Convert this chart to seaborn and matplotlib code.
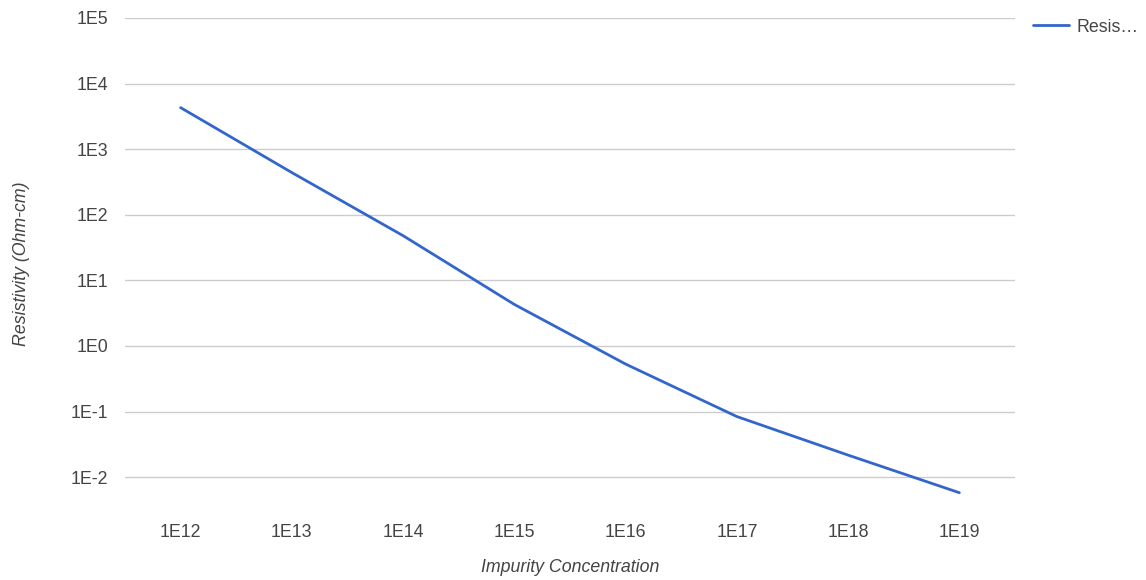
import matplotlib
matplotlib.use("Agg")
import matplotlib.pyplot as plt
import seaborn as sns
import pandas as pd
from matplotlib.ticker import FixedLocator, NullLocator

# Silicon resistivity versus impurity concentration
concentration = [1e12, 1e13, 1e14, 1e15, 1e16, 1e17, 1e18, 1e19]
resistivity = [4300, 440, 48, 4.3, 0.53, 0.084, 0.0217, 0.0058]
x_tick_labels = ["1E12", "1E13", "1E14", "1E15", "1E16", "1E17", "1E18", "1E19"]
y_ticks = [1e-2, 1e-1, 1e0, 1e1, 1e2, 1e3, 1e4, 1e5]
y_tick_labels = ["1E-2", "1E-1", "1E0", "1E1", "1E2", "1E3", "1E4", "1E5"]
series_name = "Resis…"

df = pd.DataFrame({"Impurity Concentration": concentration,
                   "Resistivity": resistivity,
                   "series": series_name})

sns.set_theme(style="white")
plt.rcParams["font.family"] = ["Liberation Sans", "DejaVu Sans"]

FS = 12.8
W, H = 1146, 580
fig = plt.figure(figsize=(W / 100, H / 100), dpi=100)
ax = fig.add_axes([125 / W, 1 - 510 / H, 890 / W, 492 / H])

sns.lineplot(data=df, x="Impurity Concentration", y="Resistivity",
             hue="series", palette=["#3366cc"], linewidth=2, ax=ax)

ax.set_xscale("log")
ax.set_yscale("log")
ax.set_xlim(10 ** 11.5, 10 ** 19.5)
ax.set_ylim(10 ** -2.5, 1e5)

ax.xaxis.set_major_locator(FixedLocator(concentration))
ax.xaxis.set_minor_locator(NullLocator())
ax.set_xticklabels(x_tick_labels)
ax.yaxis.set_major_locator(FixedLocator(y_ticks))
ax.yaxis.set_minor_locator(NullLocator())
ax.set_yticklabels(y_tick_labels)

ax.grid(False)
for yv in y_ticks:
    ax.axhline(yv, color="#cccccc", linewidth=1, zorder=0)

for s in ax.spines.values():
    s.set_visible(False)

ax.tick_params(axis="both", length=0, labelsize=FS, labelcolor="#444444")
ax.tick_params(axis="y", pad=12)
ax.tick_params(axis="x", pad=10)

ax.set_xlabel("Impurity Concentration", fontsize=FS, style="italic",
              color="#444444", va="center")
ax.xaxis.set_label_coords(0.5, (510 - 567) / 492)
ax.set_ylabel("Resistivity (Ohm-cm)", fontsize=FS, style="italic",
              color="#444444", va="center")
ax.yaxis.set_label_coords((22 - 125) / 890, (510 - 264) / 492)

leg = ax.legend(loc="upper left", bbox_to_anchor=(1029 / W, 1 - 15 / H),
                bbox_transform=fig.transFigure, frameon=False,
                fontsize=FS, handlelength=2.05, handletextpad=0.4,
                borderaxespad=0, borderpad=0.2)
for t in leg.get_texts():
    t.set_color("#444444")

fig.savefig("out.png", dpi=100)
